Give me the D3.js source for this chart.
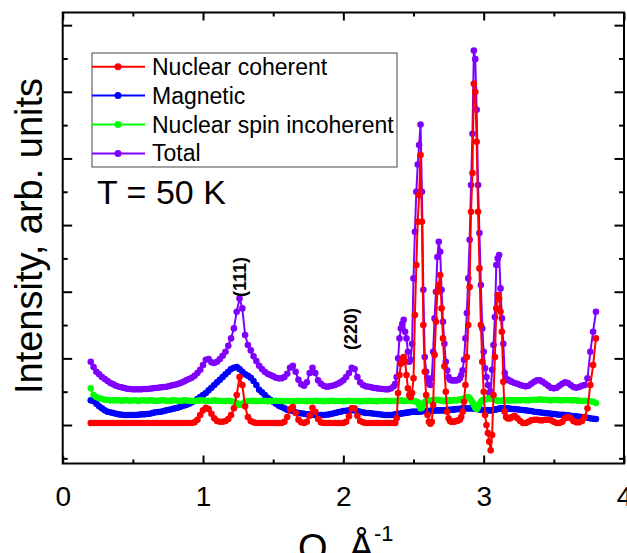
<!DOCTYPE html>
<html><head><meta charset="utf-8">
<script src="https://cdn.jsdelivr.net/npm/d3@7"></script>
<style>body{margin:0;background:#fff}svg{display:block}</style>
</head><body>
<svg id="chart" width="627" height="553"></svg>
<script>
// Q grid (Å^-1): 0.02 steps, 0.01 steps across the dense peak region, 0.02 steps after
const qGrid = [].concat(
  d3.range(0,109).map(i => +(0.20 + 0.02*i).toFixed(2)),
  d3.range(0,84).map(i => +(2.37 + 0.01*i).toFixed(2)),
  d3.range(0,30).map(i => +(3.22 + 0.02*i).toFixed(2))
);

const nuclearCoherent = [
 .03,.03,.03,.03,.03,.03,.03,.03,.03,.03,
 .03,.03,.03,.03,.03,.03,.03,.03,.03,.03,
 .03,.03,.03,.03,.03,.03,.03,.03,.03,.03,
 .03,.03,.03,.03,.03,.03,.03,.04,.08,.15,
 .22,.26,.24,.17,.10,.06,.05,.05,.06,.09,
 .15,.25,.45,.72,.60,.28,.12,.06,.04,.03,
 .03,.03,.03,.03,.03,.03,.03,.03,.03,.05,
 .12,.24,.27,.18,.08,.04,.03,.05,.14,.26,
 .20,.09,.04,.03,.03,.03,.03,.03,.03,.03,
 .03,.05,.13,.25,.25,.14,.06,.04,.03,.03,
 .03,.03,.03,.03,.03,.03,.03,.03,.03,
 // 2.37 - 3.20
 .03,.10,.48,.75,.92,.98,1.02,.95,.75,.55,
 .45,.42,.48,.70,1.65,2.40,3.05,3.45,4.05,3.05,
 1.50,.80,.45,.15,.05,.02,.05,.30,1.05,1.55,
 2.00,2.10,2.25,1.75,1.30,.88,.50,.20,.10,.06,
 .05,.05,.05,.06,.06,.07,.08,.12,.20,.35,
 .60,1.02,1.50,2.07,3.20,3.78,5.12,5.00,4.25,3.20,
 2.35,1.50,.95,.50,.15,.00,-.12,-.25,-.38,-.15,
 .45,1.02,1.75,1.95,1.90,1.70,1.40,.65,.20,.12,
 .10,.10,.10,.12,
 // 3.22 - 3.80
 .14,.10,.06,.03,.03,.05,.07,.08,.08,.07,
 .07,.08,.08,.07,.05,.03,.03,.05,.10,.12,
 .10,.06,.04,.04,.06,.12,.25,.60,.90,1.30
];

const magnetic = [
 .37,.36,.32,.28,.25,.22,.20,.19,.18,.17,
 .16,.155,.15,.15,.15,.15,.15,.155,.16,.16,
 .165,.17,.18,.19,.195,.20,.21,.22,.23,.24,
 .25,.26,.275,.29,.30,.32,.34,.36,.39,.42,
 .45,.48,.52,.56,.60,.64,.68,.72,.76,.80,
 .84,.86,.87,.84,.80,.76,.74,.71,.66,.60,
 .53,.49,.45,.41,.38,.35,.32,.29,.27,.25,
 .23,.22,.21,.19,.18,.175,.17,.16,.16,.155,
 .15,.15,.15,.15,.155,.16,.17,.18,.19,.20,
 .21,.215,.22,.22,.22,.21,.20,.19,.18,.18,
 .175,.17,.165,.16,.155,.15,.15,.15,.155,
 .16,.16,.165,.17,.17,.175,.18,.18,.185,.19,
 .19,.195,.20,.20,.20,.20,.20,.20,.205,.205,
 .21,.21,.21,.21,.21,.215,.215,.215,.22,.22,
 .22,.22,.22,.22,.22,.22,.22,.225,.225,.23,
 .23,.23,.235,.235,.24,.24,.24,.245,.25,.25,
 .25,.25,.25,.25,.25,.25,.25,.245,.24,.24,
 .235,.23,.225,.22,.22,.22,.22,.22,.22,.22,
 .225,.23,.235,.24,.245,.25,.25,.25,.25,.25,
 .25,.245,.245,.24,
 .24,.235,.23,.225,.22,.215,.21,.20,.195,.19,
 .185,.18,.175,.17,.165,.16,.155,.155,.15,.145,
 .14,.135,.13,.125,.12,.115,.11,.10,.095,.09
];

const spinIncoherent = [
 .55,.45,.42,.40,.39,.38,.375,.37,.37,.37,
 .37,.365,.37,.37,.365,.37,.37,.36,.37,.37,
 .365,.37,.37,.36,.365,.37,.37,.365,.36,.37,
 .37,.365,.36,.37,.37,.365,.36,.36,.365,.37,
 .37,.36,.36,.365,.37,.365,.36,.36,.36,.365,
 .36,.35,.33,.30,.32,.35,.36,.36,.365,.36,
 .36,.365,.36,.355,.36,.36,.365,.36,.36,.355,
 .36,.36,.355,.36,.365,.36,.36,.355,.36,.36,
 .365,.36,.36,.355,.36,.36,.365,.36,.36,.36,
 .355,.36,.365,.36,.36,.36,.355,.36,.36,.365,
 .36,.36,.355,.36,.36,.365,.36,.36,.36,
 .36,.36,.365,.37,.37,.365,.36,.36,.365,.37,
 .37,.365,.36,.36,.355,.35,.34,.30,.25,.26,
 .31,.34,.36,.365,.37,.37,.365,.37,.375,.375,
 .38,.375,.37,.365,.36,.36,.365,.37,.37,.365,
 .37,.37,.375,.37,.37,.38,.38,.385,.39,.395,
 .40,.41,.42,.40,.37,.34,.30,.26,.24,.27,
 .32,.35,.37,.38,.385,.39,.395,.40,.40,.395,
 .39,.38,.37,.365,.36,.36,.365,.37,.37,.37,
 .37,.37,.37,.37,
 .37,.37,.37,.375,.37,.37,.375,.38,.38,.385,
 .38,.38,.375,.37,.375,.375,.37,.37,.375,.375,
 .37,.37,.37,.365,.365,.36,.36,.355,.35,.33
];

const total = [
 .95,.87,.80,.76,.72,.69,.66,.63,.61,.59,
 .575,.565,.555,.545,.54,.535,.535,.535,.535,.54,
 .54,.545,.55,.555,.56,.565,.57,.575,.585,.595,
 .605,.615,.63,.65,.67,.69,.71,.74,.78,.83,
 .90,.98,.99,.94,.93,.95,.99,1.04,1.10,1.19,
 1.30,1.45,1.70,1.90,1.75,1.35,1.20,1.12,1.03,.96,
 .89,.84,.80,.77,.75,.73,.71,.70,.70,.72,
 .77,.86,.89,.80,.68,.61,.59,.64,.78,.86,
 .78,.67,.62,.59,.575,.58,.59,.60,.62,.64,
 .67,.72,.78,.86,.84,.72,.64,.60,.58,.575,
 .565,.555,.55,.545,.54,.535,.535,.55,.58,
 .62,.72,1.00,1.30,1.45,1.52,1.58,1.40,1.30,1.10,
 .95,.98,1.22,2.20,2.90,3.50,3.91,4.20,4.51,3.50,
 2.03,1.02,.80,.70,.62,.60,.70,1.10,1.60,2.00,
 2.52,2.75,2.60,2.03,1.55,1.22,.95,.82,.72,.68,
 .67,.67,.67,.67,.67,.68,.70,.75,.82,.98,
 1.30,1.68,2.20,2.78,3.60,4.37,5.62,5.49,4.73,3.60,
 2.88,2.10,1.45,1.10,.85,.72,.60,.48,.50,.83,
 1.20,1.62,2.40,2.50,2.55,2.05,1.60,1.22,.78,.70,
 .68,.67,.66,.65,
 .63,.62,.60,.59,.58,.59,.62,.65,.67,.67,
 .65,.62,.59,.56,.55,.56,.59,.62,.64,.63,
 .60,.57,.56,.57,.59,.60,.70,1.10,1.40,1.70
];

const seriesNames = ["Nuclear coherent","Magnetic","Nuclear spin incoherent","Total"];
const seriesColors = ["#ff0000","#0000ff","#00ff00","#8000ff"];
const seriesValues = [nuclearCoherent, magnetic, spinIncoherent, total];
const drawOrder = [3,1,2,0];

const xTickValues = [0,1,2,3,4];
const xTickLabels = ["0","1","2","3","4"];
const xMinorTicks = [0.5,1.5,2.5,3.5];
const yMajorTicks = [0,1,2,3,4,5,6];
const yMinorTicks = [-0.5,0.5,1.5,2.5,3.5,4.5,5.5];

const peakLabels = [{text:"(111)", q:1.29, v:2.22}, {text:"(220)", q:2.08, v:1.44}];

const FONT = "'Liberation Sans', Arial, Helvetica, sans-serif";
const svg = d3.select("#chart");
const L = 62.7, R = 624, T = 12.5, B = 463.5;
const x = d3.scaleLinear().domain([0,4]).range([L,R]);
const y = d3.scaleLinear().domain([-0.5775, 6.19]).range([B,T]);

// data
const line = d3.line().x(d => x(d[0])).y(d => y(d[1]));
drawOrder.forEach(si => {
  const pts = qGrid.map((q,i) => [q, seriesValues[si][i]]).filter(d => d[1] !== undefined);
  const g = svg.append("g");
  g.append("path").attr("d", line(pts)).attr("fill","none")
    .attr("stroke", seriesColors[si]).attr("stroke-width", 2);
  g.selectAll("circle").data(pts).enter().append("circle")
    .attr("cx", d => x(d[0])).attr("cy", d => y(d[1])).attr("r", 3.3)
    .attr("fill", seriesColors[si]);
});

// axes (ticks inward)
function styleAxis(g){ g.select(".domain").remove(); g.selectAll("line").attr("stroke","#000").attr("stroke-width",2); }
svg.append("g").attr("transform",`translate(0,${B})`)
  .call(d3.axisBottom(x).tickValues(xTickValues).tickSize(-8).tickPadding(22.6).tickFormat((d,i)=>xTickLabels[i]))
  .call(styleAxis)
  .selectAll("text").attr("font-size",28).attr("font-family",FONT).attr("fill","#000");
svg.append("g").attr("transform",`translate(0,${B})`)
  .call(d3.axisBottom(x).tickValues(xMinorTicks).tickSize(-4).tickFormat(""))
  .call(styleAxis);
svg.append("g").attr("transform",`translate(0,${T})`)
  .call(d3.axisTop(x).tickValues(xTickValues).tickSize(-8).tickFormat("")).call(styleAxis);
svg.append("g").attr("transform",`translate(0,${T})`)
  .call(d3.axisTop(x).tickValues(xMinorTicks).tickSize(-4).tickFormat("")).call(styleAxis);
svg.append("g").attr("transform",`translate(${L},0)`)
  .call(d3.axisLeft(y).tickValues(yMajorTicks).tickSize(-9.5).tickFormat("")).call(styleAxis);
svg.append("g").attr("transform",`translate(${L},0)`)
  .call(d3.axisLeft(y).tickValues(yMinorTicks).tickSize(-5).tickFormat("")).call(styleAxis);
svg.append("g").attr("transform",`translate(${R},0)`)
  .call(d3.axisRight(y).tickValues(yMajorTicks).tickSize(-9.5).tickFormat("")).call(styleAxis);
svg.append("g").attr("transform",`translate(${R},0)`)
  .call(d3.axisRight(y).tickValues(yMinorTicks).tickSize(-5).tickFormat("")).call(styleAxis);

svg.append("rect").attr("x",L).attr("y",T).attr("width",R-L).attr("height",B-T)
  .attr("fill","none").attr("stroke","#000").attr("stroke-width",2);

// axis titles
svg.append("text").attr("transform","translate(42,236) rotate(-90)")
  .attr("text-anchor","middle").attr("font-family",FONT).attr("font-size",38)
  .text("Intensity, arb. units");
const xt = svg.append("text").attr("x",298).attr("y",561)
  .attr("font-family",FONT).attr("font-size",38);
xt.append("tspan").text("Q, Å");
xt.append("tspan").attr("dy",-20).attr("font-size",22).text("-1");

// legend
const lg = svg.append("g");
lg.append("rect").attr("x",92).attr("y",53).attr("width",305).attr("height",114)
  .attr("fill","#fff").attr("stroke","#444").attr("stroke-width",1);
seriesNames.forEach((name,i) => {
  const ry = 66.7 + i*28.9;
  lg.append("line").attr("x1",92).attr("x2",145).attr("y1",ry).attr("y2",ry)
    .attr("stroke",seriesColors[i]).attr("stroke-width",2);
  lg.append("circle").attr("cx",118).attr("cy",ry).attr("r",3.5).attr("fill",seriesColors[i]);
  lg.append("text").attr("x",152).attr("y",ry+8).attr("font-family",FONT)
    .attr("font-size",23).text(name);
});

svg.append("text").attr("x",97).attr("y",204).attr("font-family",FONT)
  .attr("font-size",34).text("T = 50 K");

peakLabels.forEach(p => {
  svg.append("text").attr("transform",`translate(${x(p.q)-4},${y(p.v)}) rotate(-90)`)
    .attr("text-anchor","middle").attr("dominant-baseline","central")
    .attr("font-family",FONT).attr("font-size",18).attr("font-weight","bold").text(p.text);
});
</script>
</body></html>
